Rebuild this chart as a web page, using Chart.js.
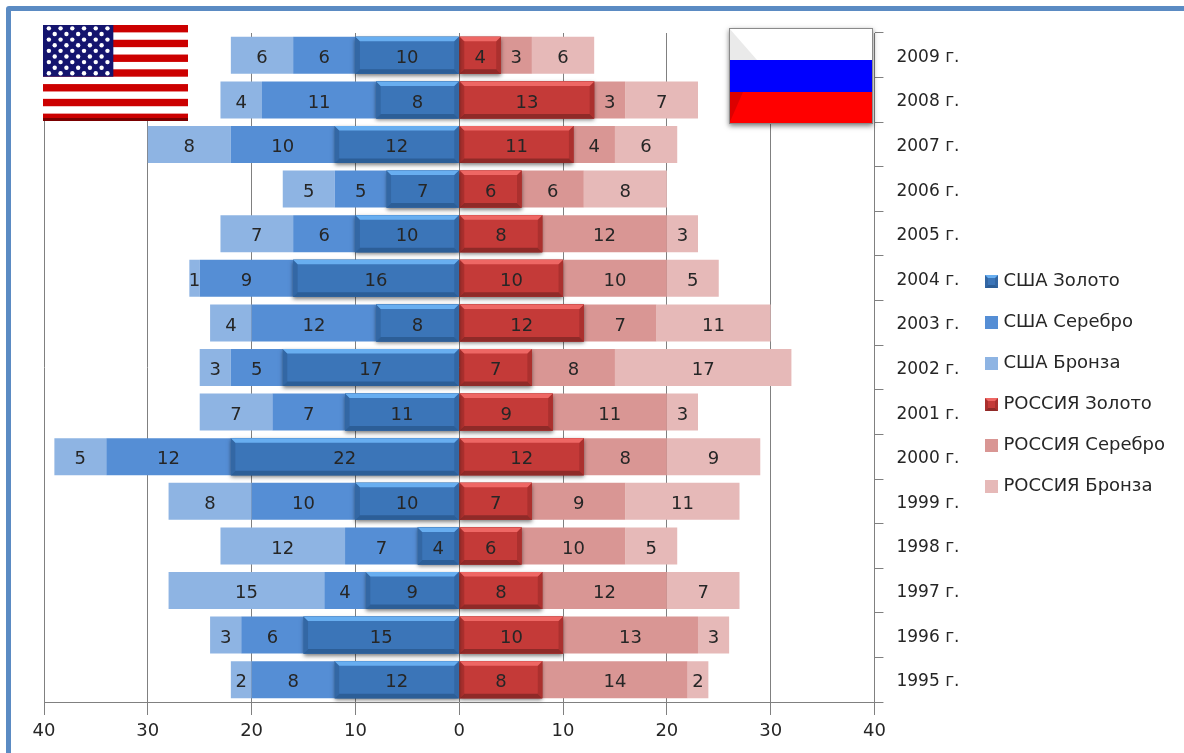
<!DOCTYPE html>
<html lang="ru">
<head>
<meta charset="utf-8">
<title>Медали США и России</title>
<script src="https://cdn.jsdelivr.net/npm/chart.js@4"></script>
<style>
  html, body { margin: 0; height: 100%; overflow: hidden; background: #fff; }
  .frame { position: absolute; left: 6px; top: 6px; width: 1300px; height: 1000px;
           border: 5px solid #5b8bc3; border-radius: 3px; }
  canvas { position: absolute; left: 0; top: 0; filter: blur(0.45px); }
</style>
</head>
<body>
<div class="frame"></div>
<canvas id="medals" width="1184" height="753"></canvas>
<script>
const years = ['2009 г.', '2008 г.', '2007 г.', '2006 г.', '2005 г.', '2004 г.', '2003 г.', '2002 г.',
  '2001 г.', '2000 г.', '1999 г.', '1998 г.', '1997 г.', '1996 г.', '1995 г.'];

const usaGold = [10, 8, 12, 7, 10, 16, 8, 17, 11, 22, 10, 4, 9, 15, 12];
const usaSilver = [6, 11, 10, 5, 6, 9, 12, 5, 7, 12, 10, 7, 4, 6, 8];
const usaBronze = [6, 4, 8, 5, 7, 1, 4, 3, 7, 5, 8, 12, 15, 3, 2];
const rusGold = [4, 13, 11, 6, 8, 10, 12, 7, 9, 12, 7, 6, 8, 10, 8];
const rusSilver = [3, 3, 4, 6, 12, 10, 7, 8, 11, 8, 9, 10, 12, 13, 14];
const rusBronze = [6, 7, 6, 8, 3, 5, 11, 17, 3, 9, 11, 5, 7, 3, 2];

const TEXT = '#262626';
const GRID = '#808080';
const FONT = "'DejaVu Sans', sans-serif";

const BLUE_BEVEL = { body: '#3b75b8', top: '#68aef0', side: '#3367a4', bottom: '#2c5e97' };
const RED_BEVEL = { body: '#c43a38', top: '#ee6764', side: '#ab302e', bottom: '#8f2a28' };

/* ------------------------------------------
   Bevelled gold bars + their legend swatches
   ------------------------------------------ */
function paintBevel(ctx, l, t, r, b, c, e) {
  ctx.fillStyle = c.body;
  ctx.fillRect(l, t, r - l, b - t);

  const strip = (color, pts) => {
    ctx.fillStyle = color;
    ctx.beginPath();
    pts.forEach((p, i) => (i ? ctx.lineTo(p[0], p[1]) : ctx.moveTo(p[0], p[1])));
    ctx.closePath();
    ctx.fill();
  };
  strip(c.side, [[l, t], [l + e, t + e], [l + e, b - e], [l, b]]);
  strip(c.side, [[r, t], [r - e, t + e], [r - e, b - e], [r, b]]);
  strip(c.top, [[l, t], [r, t], [r - e, t + e], [l + e, t + e]]);
  strip(c.bottom, [[l, b], [r, b], [r - e, b - e], [l + e, b - e]]);
}

function swatch(color, bevel) {
  const c = document.createElement('canvas');
  c.width = 13;
  c.height = 13;
  const ctx = c.getContext('2d');
  if (bevel) {
    paintBevel(ctx, 0, 0, 13, 13, bevel, 3);
  } else {
    ctx.fillStyle = color;
    ctx.fillRect(0, 0, 13, 13);
  }
  return c;
}

const goldBars = {
  id: 'goldBars',
  afterDatasetDraw(chart, args) {
    const bevel = chart.data.datasets[args.index].bevel;
    if (!bevel) return;
    const ctx = chart.ctx;
    args.meta.data.forEach(bar => {
      const { x, y, base, height } = bar.getProps(['x', 'y', 'base', 'height'], true);
      const l = Math.min(x, base), r = Math.max(x, base);
      const t = y - height / 2, b = y + height / 2;
      ctx.save();
      ctx.shadowColor = 'rgba(0,0,0,0.5)';
      ctx.shadowBlur = 4;
      ctx.shadowOffsetY = 2;
      ctx.fillStyle = bevel.bottom;
      ctx.fillRect(l, t, r - l, b - t);
      ctx.restore();
      paintBevel(ctx, l, t, r, b, bevel, 4.5);
    });
  }
};

/* value labels, centred on each bar */
const barValues = {
  id: 'barValues',
  afterDatasetsDraw(chart) {
    const ctx = chart.ctx;
    ctx.save();
    ctx.font = '18px ' + FONT;
    ctx.fillStyle = TEXT;
    ctx.textAlign = 'center';
    ctx.textBaseline = 'middle';
    chart.data.datasets.forEach((ds, i) => {
      chart.getDatasetMeta(i).data.forEach((bar, j) => {
        const { x, y, base } = bar.getProps(['x', 'y', 'base'], true);
        ctx.fillText(Math.abs(ds.data[j]), (x + base) / 2, y + 3);
      });
    });
    ctx.restore();
  }
};

// the x scale box is kept short so the legend centres right; labels hang below it
const xLabelRoom = {
  id: 'xLabelRoom',
  afterLayout(chart) {
    chart.scales.x.bottom = chart.height;
  }
};

/* ------------------------------------------
   Flags in the top corners of the plot
   ------------------------------------------ */
function drawUsaFlag(ctx, x, y, w, h) {
  const sh = h / 13;
  ctx.fillStyle = '#fff';
  ctx.fillRect(x, y, w, h);
  ctx.fillStyle = '#cc0000';
  for (let i = 0; i < 13; i += 2) ctx.fillRect(x, y + i * sh, w, sh);
  ctx.fillStyle = '#7a0000';
  ctx.fillRect(x, y + h - 3, w, 3);

  const cw = w * 0.485, ch = sh * 7;
  ctx.fillStyle = '#14146e';
  ctx.fillRect(x, y, cw, ch);
  ctx.fillStyle = '#fff';
  for (let row = 0; row < 9; row++) {
    const n = row % 2 ? 5 : 6;
    for (let col = 0; col < n; col++) {
      const sx = x + cw * ((col + (row % 2 ? 1 : 0.5)) / 6);
      const sy = y + ch * ((row + 0.6) / 9.2);
      ctx.beginPath();
      ctx.arc(sx, sy, 2.2, 0, Math.PI * 2);
      ctx.fill();
    }
  }
}

function drawRusFlag(ctx, x, y, w, h) {
  ctx.save();
  ctx.shadowColor = 'rgba(0,0,0,0.5)';
  ctx.shadowBlur = 5;
  ctx.shadowOffsetY = 2;
  ctx.fillStyle = '#fff';
  ctx.fillRect(x, y, w, h);
  ctx.restore();

  ctx.fillStyle = '#0000ff';
  ctx.fillRect(x, y + h / 3, w, h / 3);
  ctx.fillStyle = '#ff0000';
  ctx.fillRect(x, y + 2 * h / 3, w, h / 3);

  ctx.fillStyle = 'rgba(170,170,170,0.25)';
  ctx.beginPath();
  ctx.moveTo(x, y);
  ctx.lineTo(x + 28, y + h / 3);
  ctx.lineTo(x, y + h / 3);
  ctx.closePath();
  ctx.fill();

  ctx.fillStyle = 'rgba(120,0,0,0.25)';
  ctx.beginPath();
  ctx.moveTo(x, y + h);
  ctx.lineTo(x + 14, y + 2 * h / 3);
  ctx.lineTo(x, y + 2 * h / 3);
  ctx.closePath();
  ctx.fill();

  ctx.strokeStyle = '#8a8a8a';
  ctx.lineWidth = 1;
  ctx.strokeRect(x + 0.5, y + 0.5, w - 1, h - 1);
}

const flags = {
  id: 'flags',
  afterDraw(chart) {
    drawUsaFlag(chart.ctx, 43, 25, 145, 96);
    drawRusFlag(chart.ctx, 729, 28, 144, 96);
  }
};

/* ------------------------------------------
   Chart
   ------------------------------------------ */
const SIDE_BAR = 0.83;

function medalSet(label, data, color, bevel) {
  return {
    label,
    data,
    backgroundColor: color,
    bevel,
    barPercentage: SIDE_BAR,
    categoryPercentage: 1
  };
}

const neg = values => values.map(v => -v);

const swatches = [
  swatch('#3b75b8', BLUE_BEVEL), swatch('#558ed5'), swatch('#8eb4e3'),
  swatch('#c43a38', RED_BEVEL), swatch('#d99694'), swatch('#e6b9b8')
];

new Chart(document.getElementById('medals'), {
  type: 'bar',
  data: {
    labels: years,
    datasets: [
      medalSet('США Золото', neg(usaGold), '#3b75b8', BLUE_BEVEL),
      medalSet('США Серебро', neg(usaSilver), '#558ed5'),
      medalSet('США Бронза', neg(usaBronze), '#8eb4e3'),
      medalSet('РОССИЯ Золото', rusGold, '#c43a38', RED_BEVEL),
      medalSet('РОССИЯ Серебро', rusSilver, '#d99694'),
      medalSet('РОССИЯ Бронза', rusBronze, '#e6b9b8')
    ]
  },
  options: {
    indexAxis: 'y',
    responsive: false,
    animation: false,
    layout: { padding: { left: 44, top: 33, right: 9, bottom: 18 } },
    plugins: {
      tooltip: { enabled: false },
      legend: {
        position: 'right',
        labels: {
          color: TEXT,
          font: { family: FONT, size: 18 },
          boxWidth: 6,
          boxHeight: 13,
          padding: 23,
          usePointStyle: true,
          generateLabels: chart =>
            Chart.defaults.plugins.legend.labels.generateLabels(chart)
              .map((item, i) => ({ ...item, pointStyle: swatches[i] }))
        }
      }
    },
    scales: {
      x: {
        stacked: true,
        min: -40,
        max: 40,
        afterFit: scale => { scale.height = 33; },
        grid: { color: GRID, lineWidth: 1, tickLength: 13 },
        border: { color: GRID },
        ticks: {
          stepSize: 10,
          color: TEXT,
          font: { family: FONT, size: 18 },
          padding: 6,
          maxRotation: 0,
          callback: v => Math.abs(v)
        }
      },
      y: {
        stacked: true,
        position: 'right',
        afterFit: scale => { scale.width = 91; },
        grid: { drawOnChartArea: false, color: GRID, tickLength: 9 },
        border: { color: GRID },
        ticks: {
          color: TEXT,
          font: { family: FONT, size: 17 },
          padding: 13,
          labelOffset: 2,
          autoSkip: false
        }
      }
    }
  },
  plugins: [xLabelRoom, goldBars, barValues, flags]
});
</script>
</body>
</html>
